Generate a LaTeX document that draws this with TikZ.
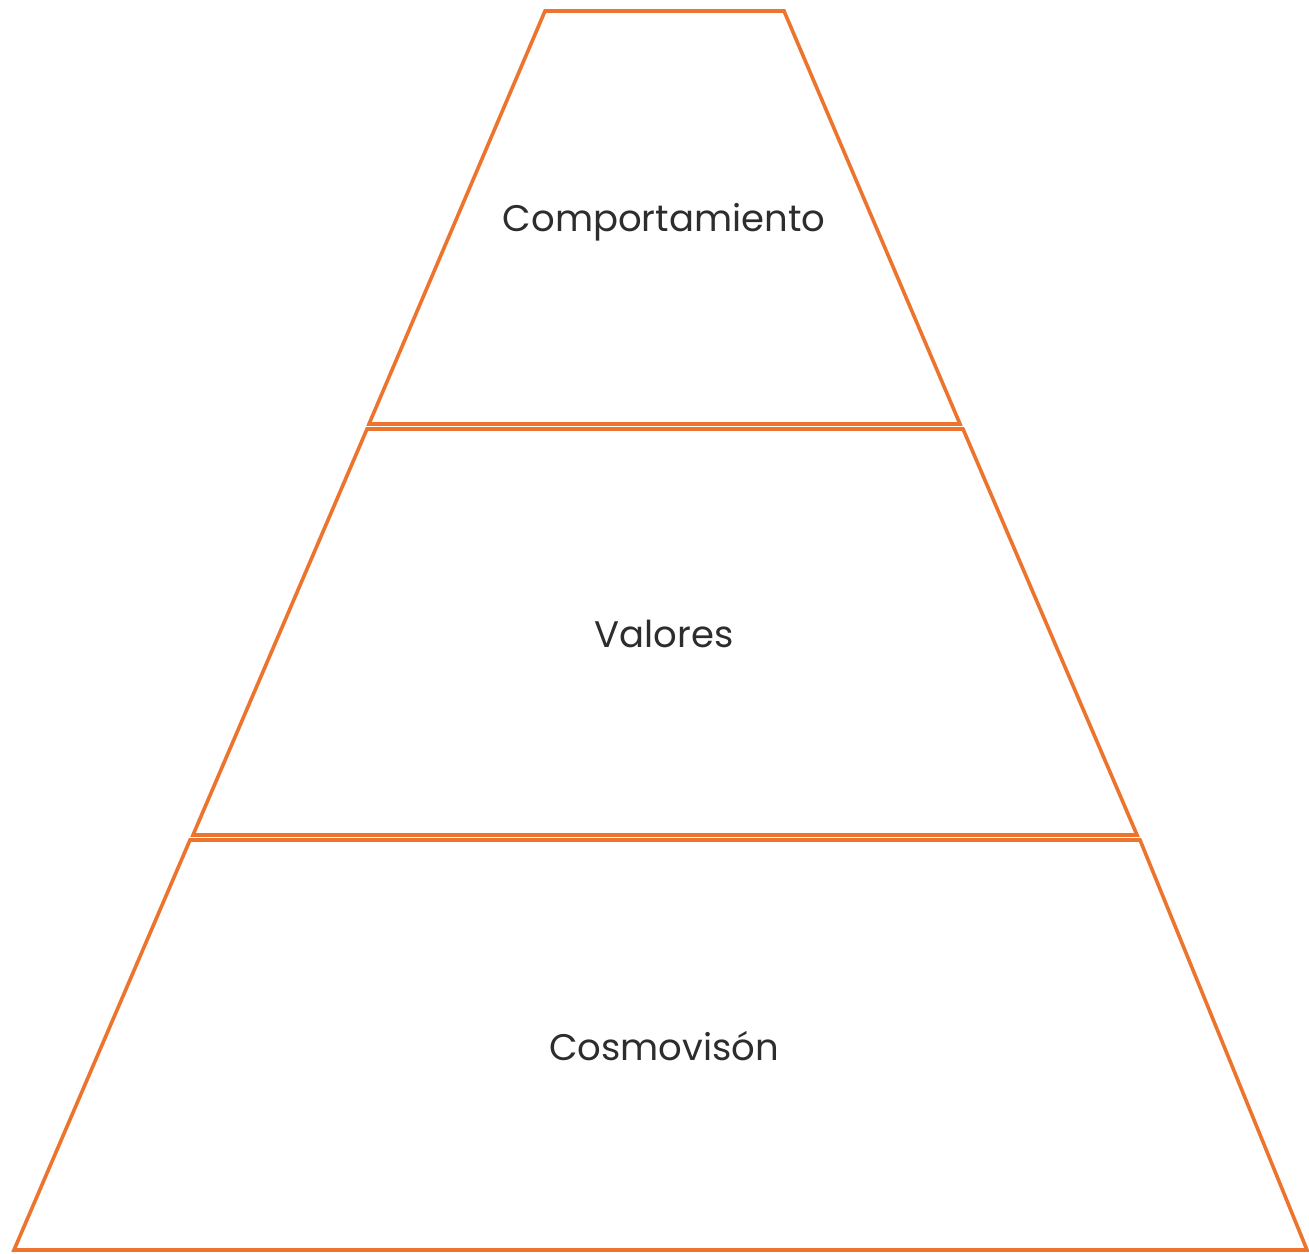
\documentclass[tikz,border=0pt]{standalone}
\usepackage{fontspec}
\setmainfont{Poppins}
\definecolor{pyrorange}{RGB}{236,116,44}
\definecolor{labelgray}{RGB}{45,45,45}
\begin{document}
\begin{tikzpicture}[x=1pt,y=-1pt,
  layer/.style={draw=pyrorange,line width=3.6pt,line join=miter},
  lbl/.style={text=labelgray,font=\fontsize{37}{44}\selectfont}]
\useasboundingbox (0,0) rectangle (1309,1253);
\draw[layer] (545,11) -- (784,11) -- (960,424) -- (369,424) -- cycle;
\draw[layer] (367,429) -- (963,429) -- (1137,835) -- (193,835) -- cycle;
\draw[layer] (190,840) -- (1140,840) -- (1307,1250) -- (14,1250) -- cycle;
\node[lbl] (comp) at (664,222) {Comportamiento};
\node[lbl] (val) at (664,634) {Valores};
\node[lbl] (cosmo) at (664,1046) {Cosmovisón};
\end{tikzpicture}
\end{document}
